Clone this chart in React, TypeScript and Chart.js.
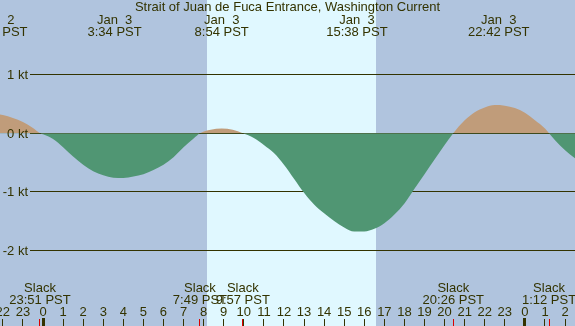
import React, { useEffect, useRef } from "react";
import { Chart, registerables } from "chart.js";

Chart.register(...registerables);

// Current speed (knots) read at hours from Jan 3 00:00 PST
const HOURS = [
  -3.0, -2.5, -2.25, -2.0, -1.5, -1.0, -0.5, -0.15,
  0.0, 0.5, 1.0, 1.5, 2.0, 2.5, 3.0, 3.5, 4.0, 4.5, 5.0, 5.5, 6.0, 6.5, 7.0, 7.5, 7.82,
  8.35, 8.9, 9.45, 9.95,
  10.5, 11.0, 11.5, 12.0, 12.5, 13.0, 13.5, 14.0, 14.5, 15.0, 15.5, 16.0, 16.5, 17.0, 17.5,
  18.0, 18.5, 19.0, 19.5, 20.0, 20.43,
  21.0, 21.5, 22.0, 22.5, 23.0, 23.5, 24.0, 24.5, 25.0, 25.2,
  25.5, 26.0, 26.5, 27.0,
];
const KNOTS = [
  0.27, 0.315, 0.32, 0.31, 0.26, 0.19, 0.09, 0.0,
  -0.02, -0.1, -0.24, -0.4, -0.54, -0.65, -0.72, -0.76, -0.765, -0.74, -0.7, -0.63, -0.54,
  -0.41, -0.24, -0.09, 0.0,
  0.06, 0.08, 0.06, 0.0,
  -0.08, -0.2, -0.34, -0.54, -0.78, -1.02, -1.22, -1.37, -1.5, -1.61, -1.68, -1.68, -1.635,
  -1.54, -1.39, -1.2, -0.95, -0.7, -0.45, -0.2, 0.0,
  0.22, 0.36, 0.44, 0.48, 0.47, 0.43, 0.35, 0.22, 0.08, 0.0,
  -0.12, -0.29, -0.43, -0.55,
];

// Max / min labels (top)
const EXT_HOURS = [-2.3, 3.567, 8.9, 15.633, 22.7];
const EXT_DATES = ["Jan  2", "Jan  3", "Jan  3", "Jan  3", "Jan  3"];
const EXT_TIMES = ["21:47 PST", "3:34 PST", "8:54 PST", "15:38 PST", "22:42 PST"];

// Slack labels (bottom)
const SLACK_HOURS = [-0.15, 7.817, 9.95, 20.433, 25.2];
const SLACK_TIMES = ["23:51 PST", "7:49 PST", "9:57 PST", "20:26 PST", "1:12 PST"];

// Hour ticks
const TICK_HOURS = [
  -2, -1, 0, 1, 2, 3, 4, 5, 6, 7, 8, 9, 10, 11, 12, 13, 14, 15, 16, 17, 18, 19, 20, 21, 22,
  23, 24, 25, 26,
];
const MIDNIGHTS = [0, 24];

// Y gridlines
const GRID_VALUES = [1, 0, -1, -2];
const GRID_LABELS = ["1 kt", "0 kt", "-1 kt", "-2 kt"];

// Daylight
const SUNRISE = 8.15;
const SUNSET = 16.58;

const TITLE = "Strait of Juan de Fuca Entrance, Washington Current";

const NIGHT = "rgb(176,196,222)";
const DAY = "rgb(224,248,255)";
const FLOOD = "rgb(192,156,122)";
const EBB = "rgb(80,150,115)";
const INK = "#333300";
const FONT = '13px "Liberation Sans", Arial, sans-serif';

const W = 575;
const H = 326;
const PX_PER_HOUR = 20.08;
const X_MIN = -43 / PX_PER_HOUR;
const X_MAX = X_MIN + W / PX_PER_HOUR;
const PX_PER_KT = 58.5;
const ZERO_PX = 133.2;
const Y_MAX = ZERO_PX / PX_PER_KT;
const Y_MIN = -(H - ZERO_PX) / PX_PER_KT;

const decor = {
  id: "tideDecor",
  beforeDraw(chart: any) {
    const { ctx, scales } = chart;
    const x = scales.x;
    ctx.save();
    ctx.fillStyle = NIGHT;
    ctx.fillRect(0, 0, W, H);
    const a = Math.round(x.getPixelForValue(SUNRISE));
    const b = Math.round(x.getPixelForValue(SUNSET));
    ctx.fillStyle = DAY;
    ctx.fillRect(a, 0, b - a, H);
    ctx.restore();
  },
  beforeDatasetsDraw(chart: any) {
    const { ctx, scales } = chart;
    ctx.save();
    ctx.fillStyle = INK;
    GRID_VALUES.forEach((v) => {
      const row = Math.floor(scales.y.getPixelForValue(v));
      ctx.fillRect(30, row, W - 30, 1);
    });
    ctx.restore();
  },
  afterDatasetsDraw(chart: any) {
    const { ctx, scales } = chart;
    const x = scales.x;
    const y = scales.y;
    ctx.save();
    ctx.font = FONT;
    ctx.fillStyle = INK;
    ctx.textBaseline = "alphabetic";
    ctx.textAlign = "center";
    ctx.fillText(TITLE, 287.5, 11);
    EXT_HOURS.forEach((h, i) => {
      const px = x.getPixelForValue(h);
      ctx.fillText(EXT_DATES[i], px, 24);
      ctx.fillText(EXT_TIMES[i], px, 36);
    });
    SLACK_HOURS.forEach((h, i) => {
      const px = x.getPixelForValue(h);
      ctx.fillText("Slack", px, 292);
      ctx.fillText(SLACK_TIMES[i], px, 304);
    });
    TICK_HOURS.forEach((h) => {
      const px = x.getPixelForValue(h);
      const lbl = String(((h % 24) + 24) % 24);
      ctx.fillText(lbl, px, 316);
      const col = Math.floor(px);
      if (MIDNIGHTS.includes(h)) {
        ctx.fillRect(col - 1, 318, 3, 8);
      } else {
        ctx.fillRect(col, 319, 1, 7);
      }
    });
    ctx.fillStyle = "rgb(220,0,0)";
    SLACK_HOURS.forEach((h) => {
      const col = Math.floor(x.getPixelForValue(h));
      ctx.fillRect(col, 319, 1, 7);
    });
    ctx.fillStyle = INK;
    ctx.textAlign = "right";
    GRID_VALUES.forEach((v, i) => {
      const row = Math.floor(y.getPixelForValue(v));
      ctx.fillText(GRID_LABELS[i], 28, row + 5);
    });
    ctx.restore();
  },
};

export default function App() {
  const ref = useRef<HTMLCanvasElement | null>(null);
  useEffect(() => {
    document.body.style.margin = "0";
    if (!ref.current) return;
    const chart = new Chart(ref.current, {
      type: "line",
      data: {
        datasets: [
          {
            data: HOURS.map((h, i) => ({ x: h, y: KNOTS[i] })),
            borderColor: "rgba(0,0,0,0)",
            borderWidth: 0,
            pointRadius: 0,
            cubicInterpolationMode: "monotone",
            fill: { target: "origin", above: FLOOD, below: EBB },
          } as any,
        ],
      },
      options: {
        responsive: false,
        devicePixelRatio: 1,
        animation: false,
        events: [],
        layout: { padding: 0 },
        scales: {
          x: { type: "linear", display: false, min: X_MIN, max: X_MAX },
          y: { type: "linear", display: false, min: Y_MIN, max: Y_MAX },
        },
        plugins: { legend: { display: false }, tooltip: { enabled: false } },
      },
      plugins: [decor],
    });
    return () => chart.destroy();
  }, []);
  return (
    <div style={{ width: W, height: H }}>
      <canvas ref={ref} width={W} height={H} style={{ display: "block" }} />
    </div>
  );
}
